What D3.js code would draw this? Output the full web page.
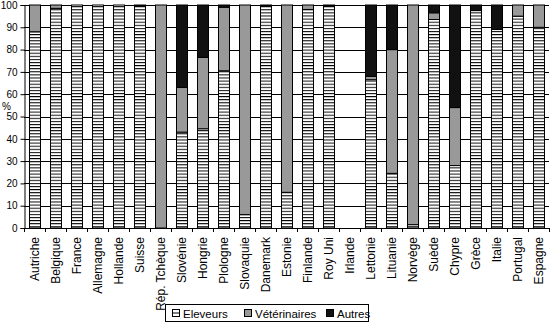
<!DOCTYPE html>
<html><head><meta charset="utf-8">
<script src="https://cdn.jsdelivr.net/npm/d3@7"></script>
<style>body{margin:0;background:#fff}svg{display:block}text{font-family:"Liberation Sans",Arial,sans-serif;fill:#000}</style>
</head><body><svg id="c" width="550" height="325"></svg>
<script>
const categories = ["Autriche","Belgique","France","Allemagne","Hollande","Suisse","Rép. Tchèque","Slovénie","Hongrie","Plologne","Slovaquie","Danemark","Estonie","Finlande","Roy Uni","Irlande","Lettonie","Lituanie","Norvège","Suède","Chypre","Grèce","Italie","Portugal","Espagne"];
const eleveurs     = [88, 98.5, 100, 100, 100, 99.5, 0, 43, 44.5, 70.5, 6, 99.5, 16, 98, 99.5, 0, 66.5, 24.5, 1.5, 93.5, 28, 97.5, 89, 95, 90];
const veterinaires = [12, 1.5, 0, 0, 0, 0, 100, 20, 32, 28.5, 94, 0, 84, 2, 0, 0, 1.5, 55.5, 98.5, 3, 26, 0, 0, 5, 10];
const autres       = [0, 0, 0, 0, 0, 0.5, 0, 37, 23.5, 1, 0, 0.5, 0, 0, 0.5, 0, 32, 20, 0, 3.5, 46, 2.5, 11, 0, 0];
const seriesNames = ["Eleveurs","Vétérinaires","Autres"];
const yTicks = [0,10,20,30,40,50,60,70,80,90,100];

const svg = d3.select("#c");
const L = 24, R = 549, T = 5, B = 228;
const x = d3.scaleBand().domain(categories).range([L, R]).paddingInner(0.5).paddingOuter(0.25);
const y = d3.scaleLinear().domain([0,100]).range([B, T]);

const defs = svg.append("defs");
const pat = defs.append("pattern").attr("id","stripes").attr("patternUnits","userSpaceOnUse")
  .attr("width",6).attr("height",3.1);
pat.append("rect").attr("width",6).attr("height",3.1).attr("fill","#fff");
pat.append("rect").attr("y",0).attr("width",6).attr("height",1).attr("fill","#000");

const fills = ["url(#stripes)","#999999","#111111"];

// gridlines
svg.append("g").selectAll("line").data(yTicks.filter(d=>d>0)).join("line")
  .attr("x1",L).attr("x2",R).attr("y1",d=>Math.round(y(d))+0.5).attr("y2",d=>Math.round(y(d))+0.5)
  .attr("stroke","#000").attr("stroke-width",1);

// stacked data
const rows = categories.map((c,i)=>({cat:c, Eleveurs:eleveurs[i], "Vétérinaires":veterinaires[i], Autres:autres[i]}));
const stack = d3.stack().keys(seriesNames)(rows);
svg.append("g").selectAll("g").data(stack).join("g")
  .attr("fill",(d,i)=>fills[i])
  .selectAll("rect").data(d=>d.filter(p=>p[1]-p[0]>0)).join("rect")
  .attr("x",d=>Math.round(x(d.data.cat))+0.5)
  .attr("width",Math.round(x.bandwidth()))
  .attr("y",d=>y(d[1]))
  .attr("height",d=>y(d[0])-y(d[1]))
  .attr("stroke","#000").attr("stroke-width",1);

// y axis
const ya = d3.axisLeft(y).tickValues(yTicks).tickSize(4).tickPadding(3);
const gy = svg.append("g").attr("transform",`translate(${L+0.5},0)`).call(ya);
gy.select(".domain").attr("stroke","#000");
gy.selectAll(".tick line").attr("stroke","#000");
gy.selectAll(".tick text").style("font-size","10px").style("font-family","Liberation Sans, Arial");

svg.append("text").attr("x",2).attr("y",110).style("font-size","10px").text("%");

// x axis
const xa = d3.axisBottom(x).tickSize(0).tickPadding(0).tickFormat("");
const gx = svg.append("g").attr("transform",`translate(0,${B+0.5})`).call(xa);
gx.select(".domain").attr("d",`M${L},0H${R}`).attr("stroke","#000");
// boundary ticks
svg.append("g").selectAll("line").data(d3.range(categories.length+1)).join("line")
  .attr("x1",i=>Math.round(L + i*x.step())+0.5).attr("x2",i=>Math.round(L + i*x.step())+0.5)
  .attr("y1",B).attr("y2",B+4).attr("stroke","#000");

// category labels
svg.append("g").selectAll("text").data(categories).join("text")
  .attr("transform",d=>`translate(${x(d)+x.bandwidth()/2},237) rotate(-90)`)
  .attr("text-anchor","end").attr("dy","0.35em")
  .style("font-size","12px").text(d=>d);

// legend
const lg = svg.append("g");
lg.append("rect").attr("x",165.5).attr("y",304.5).attr("width",203).attr("height",17)
  .attr("fill","#fff").attr("stroke","#000");
const lx = [172, 244, 326];
seriesNames.forEach((s,i)=>{
  lg.append("rect").attr("x",lx[i]+0.5).attr("y",309.5).attr("width",7).attr("height",7)
    .attr("fill", i===0 ? "#fff" : fills[i]).attr("stroke","#000");
  if(i===0){
    lg.append("line").attr("x1",lx[i]+1).attr("x2",lx[i]+7).attr("y1",313).attr("y2",313).attr("stroke","#000");
  }
  lg.append("text").attr("x",lx[i]+11).attr("y",317.5).style("font-size","11.5px").text(s);
});
</script></body></html>
